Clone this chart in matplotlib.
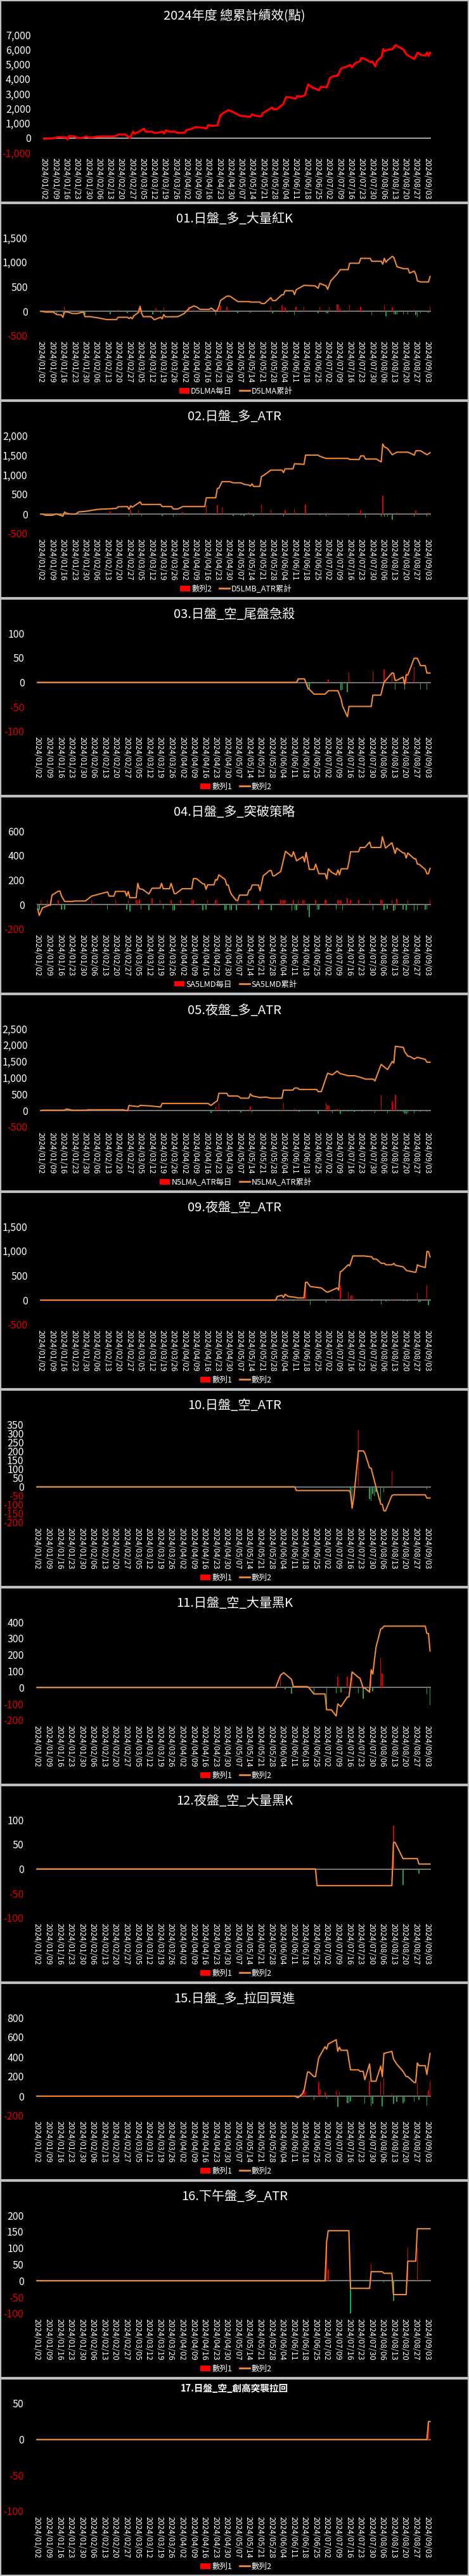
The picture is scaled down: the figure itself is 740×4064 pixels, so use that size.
import numpy as np
import pandas as pd
import matplotlib
matplotlib.use('Agg')
import matplotlib.pyplot as plt
from matplotlib.patches import Patch, Rectangle
from matplotlib.lines import Line2D
from matplotlib.ticker import FuncFormatter

plt.rcParams['font.family'] = ['Noto Sans CJK TC', 'DejaVu Sans']

# ---- data: (MM/DD, points), year 2024 ----
p00_line = [('01/02', -50), ('01/04', -40), ('01/09', 0), ('01/11', 70), ('01/16', 40), ('01/17', -100),
            ('01/18', 140), ('01/22', 100), ('01/23', 0), ('01/26', 0), ('01/29', 100), ('01/31', 40),
            ('02/02', 40), ('02/05', 100), ('02/07', 110), ('02/16', 110), ('02/19', 240), ('02/23', 240),
            ('02/26', 0), ('02/28', 430), ('02/29', 290), ('03/04', 500), ('03/06', 640), ('03/07', 430),
            ('03/11', 430), ('03/13', 330), ('03/18', 430), ('03/19', 300), ('03/20', 530), ('03/22', 430),
            ('03/26', 430), ('03/27', 360), ('04/01', 360), ('04/02', 530), ('04/05', 610), ('04/08', 740),
            ('04/12', 710), ('04/15', 640), ('04/16', 890), ('04/18', 820), ('04/22', 860), ('04/24', 1570),
            ('04/29', 1900), ('05/02', 1760), ('05/06', 1530), ('05/13', 1430), ('05/14', 1600), ('05/17', 1500),
            ('05/20', 1470), ('05/21', 1690), ('05/27', 2070), ('05/28', 1930), ('05/30', 1960), ('06/03', 2290),
            ('06/05', 2790), ('06/07', 2760), ('06/11', 2670), ('06/12', 2860), ('06/14', 2790), ('06/17', 2900),
            ('06/19', 3640), ('06/21', 3470), ('06/26', 3240), ('06/27', 3470), ('07/01', 3450), ('07/03', 4070),
            ('07/05', 4190), ('07/08', 4240), ('07/10', 4710), ('07/15', 4900), ('07/16', 4960), ('07/17', 4790),
            ('07/19', 5070), ('07/22', 5190), ('07/23', 5430), ('07/26', 5330), ('07/29', 5140), ('07/30', 5210),
            ('08/01', 4860), ('08/02', 5210), ('08/05', 5500), ('08/06', 6040), ('08/07', 5890), ('08/09', 5990),
            ('08/12', 6030), ('08/14', 6310), ('08/15', 6240), ('08/19', 6000), ('08/21', 5670), ('08/23', 5530),
            ('08/26', 5360), ('08/28', 5790), ('08/30', 5640), ('09/02', 5600), ('09/03', 5790), ('09/04', 5570),
            ('09/05', 5790)]

p01_line = [('01/02', 0), ('01/03', 0), ('01/05', -15), ('01/10', -15), ('01/12', -65), ('01/15', -73),
            ('01/16', -120), ('01/17', -13), ('01/19', -13), ('01/22', -43), ('01/25', -43), ('01/29', -13),
            ('01/30', -107), ('02/02', -107), ('02/07', -130), ('02/13', -167), ('02/19', -167), ('02/20', -120),
            ('02/26', -120), ('02/27', -145), ('02/28', -120), ('02/29', -150), ('03/01', -90), ('03/04', -20),
            ('03/05', 100), ('03/06', -40), ('03/07', -107), ('03/12', -107), ('03/14', -170), ('03/18', -120),
            ('03/19', -150), ('03/20', -65), ('03/21', -110), ('03/26', -110), ('03/29', -107), ('04/02', -43),
            ('04/05', 60), ('04/08', 110), ('04/10', 90), ('04/12', 40), ('04/18', 40), ('04/19', 70),
            ('04/22', 0), ('04/23', 30), ('04/24', 100), ('04/25', 220), ('04/29', 310), ('05/01', 310),
            ('05/06', 200), ('05/13', 200), ('05/14', 190), ('05/20', 190), ('05/21', 160), ('05/23', 160),
            ('05/27', 280), ('05/28', 220), ('05/30', 220), ('06/03', 340), ('06/04', 340), ('06/05', 420),
            ('06/10', 420), ('06/11', 340), ('06/12', 440), ('06/17', 530), ('06/24', 520), ('06/26', 470),
            ('06/27', 570), ('07/01', 520), ('07/02', 450), ('07/04', 620), ('07/08', 760), ('07/10', 850),
            ('07/15', 850), ('07/16', 980), ('07/22', 980), ('07/23', 1080), ('07/29', 1080), ('07/30', 1020),
            ('08/05', 1020), ('08/06', 960), ('08/07', 1080), ('08/08', 1000), ('08/09', 1040), ('08/12', 1120),
            ('08/13', 1100), ('08/15', 910), ('08/19', 870), ('08/22', 870), ('08/23', 780), ('08/26', 820),
            ('08/27', 750), ('08/28', 620), ('08/30', 600), ('09/04', 600), ('09/05', 710)]
p01_bars = [('01/17', 100), ('02/20', 47), ('03/04', 70), ('03/05', 120), ('03/15', 60), ('03/20', 85),
            ('04/05', 100), ('04/08', 50), ('04/24', 70), ('04/25', 120), ('04/29', 90), ('05/27', 110),
            ('06/03', 120), ('06/05', 80), ('06/12', 100), ('06/17', 90), ('06/27', 100), ('07/03', 100),
            ('07/08', 150), ('07/09', 130), ('07/10', 45), ('07/11', 20), ('07/16', 130), ('07/23', 100),
            ('08/07', 120), ('08/12', 80), ('08/26', 40), ('09/05', 110),
            ('01/12', -50), ('01/15', -10), ('01/16', -45), ('01/30', -60), ('02/15', -64), ('02/26', -30),
            ('03/06', -40), ('03/13', -56), ('03/18', -40), ('04/22', -73), ('05/06', -40), ('05/14', -20),
            ('05/28', -40), ('06/06', -20), ('06/11', -73), ('06/26', -40), ('07/01', -40), ('07/02', -30),
            ('07/30', -73), ('08/08', -100), ('08/13', -60), ('08/14', -60), ('08/15', -60), ('08/19', -60),
            ('08/22', -60), ('08/27', -70), ('08/28', -107), ('08/30', -40), ('09/04', -20)]

p02_line = [('01/02', 0), ('01/03', 0), ('01/05', -32), ('01/09', -32), ('01/12', 0), ('01/15', -40),
            ('01/16', -55), ('01/17', 50), ('01/19', 10), ('01/22', 0), ('01/24', 0), ('01/26', 55),
            ('01/29', 65), ('02/01', 80), ('02/07', 120), ('02/15', 135), ('02/19', 145), ('02/20', 185),
            ('02/26', 190), ('02/27', 120), ('02/28', 210), ('02/29', 175), ('03/04', 280), ('03/05', 310),
            ('03/06', 245), ('03/18', 245), ('03/19', 190), ('03/25', 190), ('03/26', 130), ('03/29', 130),
            ('04/01', 190), ('04/15', 190), ('04/16', 415), ('04/22', 415), ('04/23', 650), ('04/24', 660),
            ('04/26', 825), ('05/01', 825), ('05/03', 795), ('05/08', 795), ('05/10', 757), ('05/13', 740),
            ('05/14', 713), ('05/15', 768), ('05/16', 703), ('05/20', 703), ('05/21', 957), ('05/22', 973),
            ('05/27', 1119), ('06/03', 1119), ('06/04', 1054), ('06/05', 1151), ('06/10', 1151), ('06/11', 1281),
            ('06/17', 1265), ('06/18', 1500), ('06/26', 1500), ('06/27', 1470), ('07/01', 1416), ('07/15', 1416),
            ('07/16', 1390), ('07/22', 1390), ('07/23', 1480), ('07/25', 1480), ('07/26', 1400), ('08/02', 1400),
            ('08/05', 1325), ('08/06', 1784), ('08/07', 1710), ('08/09', 1670), ('08/12', 1510), ('08/15', 1575),
            ('08/22', 1575), ('08/26', 1500), ('08/27', 1610), ('08/30', 1610), ('09/03', 1510), ('09/05', 1560)]
p02_bars = [('01/17', 65), ('02/15', 65), ('02/20', 30), ('02/28', 100), ('03/04', 90), ('04/01', 50),
            ('04/16', 227), ('04/23', 227), ('04/26', 157), ('05/13', 50), ('05/21', 243), ('05/27', 119),
            ('06/05', 103), ('06/11', 135), ('06/18', 243), ('07/02', 40), ('07/23', 103), ('08/06', 460),
            ('08/15', 50), ('08/27', 103), ('09/04', 25),
            ('01/15', -30), ('02/01', -20), ('02/27', -70), ('02/29', -35), ('03/06', -50), ('03/19', -55),
            ('03/26', -60), ('05/03', -43), ('05/08', -30), ('05/10', -43), ('05/16', -43), ('06/04', -70),
            ('06/27', -25), ('07/01', -43), ('07/15', -55), ('07/26', -97), ('08/05', -70), ('08/07', -70),
            ('08/09', -70), ('08/12', -140), ('08/26', -70), ('09/03', -70)]

p03_line = [('01/02', 0), ('06/13', 0), ('06/14', 7), ('06/18', 7), ('06/20', -11), ('06/24', -24),
            ('07/01', -24), ('07/03', -17), ('07/09', -17), ('07/11', -34), ('07/12', -49), ('07/15', -70),
            ('07/16', -49), ('07/30', -49), ('07/31', -26), ('08/05', -26), ('08/07', 0), ('08/12', 19),
            ('08/13', 19), ('08/14', 4), ('08/15', 4), ('08/19', 11), ('08/20', -4), ('08/21', 15),
            ('08/22', 15), ('08/26', 49), ('08/28', 49), ('08/30', 34), ('09/02', 34), ('09/03', 19), ('09/05', 19)]
p03_bars = [('06/14', 7), ('06/20', -16), ('06/21', -15), ('07/03', 6), ('07/11', -16), ('07/12', -15),
            ('07/15', -20), ('07/16', 20), ('07/31', 23), ('08/07', 26), ('08/12', 19), ('08/14', -15),
            ('08/20', -15), ('08/21', 19), ('08/26', 32), ('08/30', -15), ('09/03', -15)]

p04_line = [('01/02', -35), ('01/03', -87), ('01/05', -26), ('01/09', -5), ('01/10', -5), ('01/11', 78),
            ('01/15', 110), ('01/16', 110), ('01/17', 70), ('01/19', 26), ('01/24', 26), ('01/25', 30),
            ('02/01', 30), ('02/05', 70), ('02/15', 104), ('02/16', 70), ('02/19', 70), ('02/20', 108),
            ('02/26', 108), ('02/27', 70), ('02/28', 108), ('02/29', 57), ('03/04', 57), ('03/05', 174),
            ('03/06', 130), ('03/08', 125), ('03/12', 87), ('03/14', 134), ('03/19', 134), ('03/20', 174),
            ('03/21', 130), ('03/25', 130), ('03/26', 174), ('03/28', 90), ('03/29', 90), ('04/02', 130),
            ('04/08', 130), ('04/09', 212), ('04/11', 212), ('04/15', 169), ('04/16', 169), ('04/17', 125),
            ('04/18', 162), ('04/22', 162), ('04/23', 205), ('04/24', 200), ('04/25', 243), ('04/29', 205),
            ('04/30', 160), ('05/01', 160), ('05/02', 113), ('05/03', 83), ('05/06', 35), ('05/07', 35),
            ('05/08', 78), ('05/13', 78), ('05/14', 118), ('05/15', 122), ('05/16', 160), ('05/20', 160),
            ('05/21', 113), ('05/23', 235), ('05/27', 278), ('05/28', 278), ('05/29', 235), ('05/30', 235),
            ('06/03', 270), ('06/06', 435), ('06/10', 391), ('06/11', 431), ('06/13', 357), ('06/17', 391),
            ('06/18', 348), ('06/19', 426), ('06/21', 287), ('06/24', 287), ('06/25', 330), ('06/27', 252),
            ('07/01', 252), ('07/02', 209), ('07/03', 292), ('07/05', 264), ('07/08', 243), ('07/09', 282),
            ('07/10', 243), ('07/11', 292), ('07/15', 292), ('07/16', 351), ('07/17', 431), ('07/22', 431),
            ('07/23', 466), ('07/26', 466), ('07/29', 510), ('07/30', 466), ('08/05', 466), ('08/06', 553),
            ('08/08', 461), ('08/12', 504), ('08/13', 461), ('08/14', 417), ('08/15', 461), ('08/19', 421),
            ('08/20', 421), ('08/21', 379), ('08/22', 421), ('08/26', 374), ('08/27', 374), ('08/28', 330),
            ('08/29', 330), ('09/02', 287), ('09/03', 252), ('09/04', 252), ('09/05', 296)]
p04_bars = [('01/04', 40), ('01/08', 40), ('01/10', 40), ('01/15', 40), ('02/05', 40), ('02/20', 40),
            ('02/28', 40), ('03/04', 35), ('03/05', 40), ('03/06', 45), ('03/14', 55), ('03/19', 40),
            ('03/26', 40), ('04/01', 35), ('04/08', 35), ('04/09', 35), ('04/18', 35), ('04/23', 40),
            ('04/24', 35), ('05/07', 35), ('05/13', 35), ('05/14', 35), ('05/21', 35), ('05/22', 35),
            ('05/23', 35), ('06/03', 35), ('06/04', 35), ('06/05', 40), ('06/06', 40), ('06/11', 40),
            ('06/14', 35), ('06/17', 35), ('06/18', 35), ('06/25', 40), ('07/01', 35), ('07/02', 40),
            ('07/09', 40), ('07/10', 35), ('07/11', 40), ('07/15', 55), ('07/17', 40), ('07/22', 35),
            ('07/29', 40), ('08/05', 35), ('08/06', 40), ('08/12', 35), ('08/15', 50), ('08/22', 40), ('09/05', 40),
            ('01/02', -45), ('01/03', -45), ('01/17', -38), ('01/19', -40), ('02/15', -40), ('02/27', -40),
            ('02/29', -55), ('03/07', -40), ('03/12', -43), ('03/21', -35), ('03/27', -48), ('03/28', -43),
            ('04/15', -43), ('04/17', -38), ('04/29', -43), ('04/30', -43), ('05/02', -43), ('05/03', -43),
            ('05/06', -45), ('05/20', -40), ('05/28', -47), ('06/10', -50), ('06/12', -43), ('06/13', -43),
            ('06/20', -43), ('06/21', -104), ('06/26', -40), ('06/27', -40), ('07/08', -40), ('07/12', -43),
            ('07/31', -43), ('08/07', -43), ('08/09', -35), ('08/13', -50), ('08/14', -45), ('08/19', -40),
            ('08/21', -45), ('08/26', -50), ('08/28', -43), ('09/02', -40), ('09/03', -40)]

p05_line = [('01/02', 0), ('01/03', 13), ('01/17', 13), ('01/18', 45), ('01/19', 45), ('01/22', 13),
            ('01/31', 13), ('02/01', 26), ('02/23', 26), ('02/26', 0), ('02/27', 160), ('02/29', 142),
            ('03/04', 123), ('03/05', 160), ('03/12', 142), ('03/18', 110), ('03/19', 220), ('04/17', 220),
            ('04/19', 160), ('04/22', 271), ('04/23', 300), ('04/24', 530), ('04/29', 530), ('04/30', 446),
            ('05/06', 446), ('05/08', 381), ('05/13', 381), ('05/14', 510), ('05/15', 452), ('05/20', 400),
            ('05/24', 413), ('05/27', 381), ('06/03', 381), ('06/04', 627), ('06/10', 627), ('06/11', 691),
            ('06/13', 691), ('06/14', 646), ('06/25', 646), ('06/26', 581), ('06/28', 581), ('07/02', 1143),
            ('07/05', 1092), ('07/08', 1208), ('07/10', 1130), ('07/15', 1066), ('07/19', 1066), ('07/23', 1014),
            ('07/26', 962), ('07/31', 962), ('08/01', 904), ('08/05', 1415), ('08/06', 1370), ('08/09', 1253),
            ('08/12', 1499), ('08/13', 1453), ('08/14', 1964), ('08/19', 1932), ('08/20', 1789), ('08/22', 1660),
            ('08/23', 1660), ('08/26', 1576), ('08/28', 1628), ('09/02', 1563), ('09/03', 1479), ('09/05', 1479)]
p05_bars = [('02/27', 60), ('04/19', -65), ('04/22', 120), ('04/24', 240), ('04/30', -50), ('05/08', -50),
            ('05/14', 110), ('05/15', -50), ('06/04', 240), ('06/11', 60), ('06/14', -40), ('06/26', -84),
            ('07/01', 240), ('07/02', 155), ('07/03', 155), ('07/05', -65), ('07/08', 45), ('07/09', 40),
            ('07/10', -97), ('07/15', -40), ('07/19', -40), ('07/24', -40), ('08/01', -65), ('08/05', 485),
            ('08/09', -65), ('08/12', 270), ('08/14', 485), ('08/19', -50), ('08/20', -97), ('08/21', -116),
            ('08/22', -70), ('08/26', -70), ('08/30', -40), ('09/03', -40)]

p09_line = [('01/02', 0), ('05/30', 0), ('05/31', 77), ('06/03', 99), ('06/04', 56), ('06/05', 120),
            ('06/07', 77), ('06/12', 56), ('06/13', 47), ('06/17', 47), ('06/18', 365), ('06/19', 365),
            ('06/21', 279), ('06/25', 262), ('06/28', 249), ('07/01', 176), ('07/02', 163), ('07/05', 206),
            ('07/08', 249), ('07/09', 206), ('07/10', 579), ('07/11', 592), ('07/15', 721), ('07/16', 700),
            ('07/18', 901), ('07/25', 901), ('07/30', 884), ('07/31', 837), ('08/02', 837), ('08/05', 751),
            ('08/07', 751), ('08/08', 721), ('08/12', 721), ('08/13', 751), ('08/14', 712), ('08/19', 678),
            ('08/21', 605), ('08/26', 571), ('08/27', 571), ('08/28', 721), ('08/29', 700), ('09/02', 665),
            ('09/03', 991), ('09/04', 991), ('09/05', 880)]
p09_bars = [('05/31', 86), ('06/04', -17), ('06/05', 43), ('06/10', -17), ('06/18', 365), ('06/21', -94),
            ('07/01', -52), ('07/05', 56), ('07/09', -17), ('07/10', 300), ('07/15', 176), ('07/17', 100),
            ('07/18', 100), ('07/30', -17), ('08/05', -82), ('08/08', -17), ('08/13', 26), ('08/19', -17),
            ('08/21', -17), ('08/22', -17), ('08/28', 142), ('08/29', -30), ('08/30', -30), ('09/03', 313),
            ('09/04', -94)]

p10_line = [('01/02', 0), ('06/12', 0), ('06/13', -21), ('07/16', -21), ('07/17', -33), ('07/18', -120),
            ('07/19', -67), ('07/22', 201), ('07/25', 201), ('07/26', 189), ('07/29', 106), ('07/30', 104),
            ('08/02', 0), ('08/05', -96), ('08/06', -99), ('08/07', -135), ('08/08', -135), ('08/12', -49),
            ('08/13', -45), ('09/02', -45), ('09/03', -63), ('09/05', -63)]
p10_bars = [('07/17', -30), ('07/18', -90), ('07/22', 317), ('07/29', -67), ('07/30', -79), ('07/31', -40),
            ('08/01', -50), ('08/02', -30), ('08/05', -100), ('08/07', -30), ('08/12', 86), ('09/03', -17)]

p11_line = [('01/02', 0), ('05/31', 0), ('06/03', 75), ('06/05', 91), ('06/10', 49), ('06/11', 6),
            ('06/20', 6), ('06/21', -3), ('06/24', -39), ('07/01', -39), ('07/02', -136), ('07/05', -136),
            ('07/08', -174), ('07/09', -100), ('07/11', -117), ('07/15', -58), ('07/16', -58), ('07/18', 95),
            ('07/22', 62), ('07/23', 56), ('07/25', -3), ('07/26', -3), ('07/29', -28), ('07/30', 108),
            ('07/31', 82), ('08/02', 244), ('08/05', 358), ('08/06', 362), ('08/07', 375), ('09/02', 375),
            ('09/03', 331), ('09/04', 330), ('09/05', 224)]
p11_bars = [('06/03', 75), ('06/06', -10), ('06/10', -39), ('06/24', -39), ('07/02', -100), ('07/08', -35),
            ('07/09', 69), ('07/11', -28), ('07/15', 69), ('07/18', 95), ('07/22', -35), ('07/25', -67),
            ('07/29', -28), ('07/30', 114), ('07/31', -22), ('08/05', 185), ('08/06', 88), ('08/07', 13),
            ('09/03', -41), ('09/05', -106)]

p12_line = [('01/02', 0), ('06/25', 0), ('06/26', -34), ('08/12', -34), ('08/13', 54), ('08/14', 54),
            ('08/19', 21), ('08/28', 21), ('08/29', 10), ('09/05', 10)]
p12_bars = [('08/13', 88), ('08/19', -33), ('08/29', -10)]

p15_line = [('01/02', 0), ('06/12', 0), ('06/14', -15), ('06/17', 28), ('06/18', 71), ('06/20', 246),
            ('06/21', 246), ('06/24', 199), ('06/25', 199), ('06/27', 388), ('07/01', 504), ('07/02', 478),
            ('07/03', 531), ('07/08', 574), ('07/09', 456), ('07/10', 499), ('07/11', 467), ('07/15', 467),
            ('07/17', 268), ('07/22', 268), ('07/23', 253), ('07/25', 253), ('07/26', 167), ('07/29', 328),
            ('07/30', 152), ('08/02', 152), ('08/05', 306), ('08/06', 199), ('08/07', 435), ('08/12', 456),
            ('08/13', 381), ('08/15', 328), ('08/19', 253), ('08/21', 199), ('08/22', 199), ('08/26', 139),
            ('08/27', 139), ('08/28', 339), ('08/29', 311), ('09/02', 311), ('09/03', 221), ('09/05', 435)]
p15_bars = [('06/17', 60), ('06/18', 80), ('06/19', 50), ('06/24', -36), ('06/27', 145), ('06/28', 70),
            ('07/01', 40), ('07/02', -26), ('07/08', 60), ('07/09', -111), ('07/10', 45), ('07/15', -69),
            ('07/16', -69), ('07/17', -54), ('07/26', -79), ('07/29', 152), ('07/30', -100), ('07/31', -75),
            ('08/05', 150), ('08/06', -100), ('08/07', 178), ('08/12', 24), ('08/13', -75), ('08/15', -58),
            ('08/19', -69), ('08/20', -58), ('08/26', -58), ('08/28', 135), ('08/29', -36), ('09/03', -94),
            ('09/04', 60), ('09/05', 152)]

p16_line = [('01/02', 0), ('07/01', 0), ('07/02', 119), ('07/03', 153), ('07/16', 153), ('07/17', -23),
            ('07/29', -23), ('07/30', 28), ('08/06', 28), ('08/07', 23), ('08/12', 23), ('08/13', -42),
            ('08/21', -42), ('08/22', 60), ('08/27', 60), ('08/28', 159), ('09/05', 159)]
p16_bars = [('07/02', 119), ('07/03', 35), ('07/17', -100), ('07/30', 52), ('08/07', -5), ('08/13', -61),
            ('08/22', 101), ('08/28', 100)]

p17_line = [('01/02', 0), ('09/03', 0), ('09/04', 25), ('09/05', 25)]
p17_bars = [('09/04', 25)]

titles = ['2024年度 總累計績效(點)', '01.日盤_多_大量紅K', '02.日盤_多_ATR', '03.日盤_空_尾盤急殺',
          '04.日盤_多_突破策略', '05.夜盤_多_ATR', '09.夜盤_空_ATR', '10.日盤_空_ATR',
          '11.日盤_空_大量黑K', '12.夜盤_空_大量黑K', '15.日盤_多_拉回買進', '16.下午盤_多_ATR',
          '17.日盤_空_創高突襲拉回']
legends = [None, ('D5LMA每日', 'D5LMA累計'), ('數列2', 'D5LMB_ATR累計'), ('數列1', '數列2'),
           ('SA5LMD每日', 'SA5LMD累計'), ('N5LMA_ATR每日', 'N5LMA_ATR累計')] + [('數列1', '數列2')] * 7
lines = [p00_line, p01_line, p02_line, p03_line, p04_line, p05_line, p09_line, p10_line,
         p11_line, p12_line, p15_line, p16_line, p17_line]
bars = [None, p01_bars, p02_bars, p03_bars, p04_bars, p05_bars, p09_bars, p10_bars,
        p11_bars, p12_bars, p15_bars, p16_bars, p17_bars]
yranges = [(-1000, 7000, 1000), (-500, 1500, 500), (-500, 2000, 500), (-100, 100, 50), (-200, 600, 200),
           (-500, 2500, 500), (-500, 1500, 500), (-200, 350, 50), (-200, 400, 100), (-100, 100, 50),
           (-200, 800, 200), (-100, 200, 50), (-100, 50, 50)]

# ---- layout (pixels) ----
W, H = 740, 4064
lefts = [68, 63, 63, 58, 58, 63, 63, 57, 57, 57, 57, 57, 57]
RIGHT = 680
ORANGE = '#F08A3C'
BAR_RED, BAR_GREEN = '#E00000', '#22A050'


def unpack(pairs):
    d = pd.to_datetime(['2024/' + m for m, _ in pairs], format='%Y/%m/%d')
    v = np.array([val for _, val in pairs], dtype=float)
    return d, v


fig = plt.figure(figsize=(W / 100, H / 100), dpi=100, facecolor='black')
ticks = pd.date_range('2024-01-02', '2024-09-03', freq='7D')
x0 = pd.Timestamp('2024-01-02') - pd.Timedelta(hours=14)
x1 = pd.Timestamp('2024-09-05') + pd.Timedelta(hours=14)

for i in range(13):
    if i == 0:
        T, PH, top, bot, ty = 0, 320, 55, 241, 25
    else:
        T, PH = 320 + (i - 1) * 312, 312
        top, bot, ty = (T + 40, T + 210, T + 16) if i == 12 else (T + 55, T + 210, T + 26)

    # panel frame
    fig.patches.append(Rectangle((1 / W, 1 - (T + PH - 1) / H), 738 / W, (PH - 2) / H,
                                 transform=fig.transFigure, fill=False, edgecolor='#C0C0C0', lw=1.6))

    ax = fig.add_axes([lefts[i] / W, 1 - bot / H, (RIGHT - lefts[i]) / W, (bot - top) / H])
    ax.set_facecolor('black')
    for s in ax.spines.values():
        s.set_visible(False)

    lo, hi, step = yranges[i]
    ax.axhline(0, color='#BFBFBF' if i == 0 else '#8C8C8C', lw=1.2, zorder=1)

    if bars[i] is not None:
        bd, bv = unpack(bars[i])
        ax.bar(bd, bv, width=0.6, color=[BAR_RED if v >= 0 else BAR_GREEN for v in bv], zorder=2)

    ld, lv = unpack(lines[i])
    if i == 0:
        ax.plot(ld, lv, color='#FF0000', lw=2.3, zorder=3, solid_joinstyle='round')
    else:
        ax.plot(ld, lv, color=ORANGE, lw=1.5, zorder=3, solid_joinstyle='round')

    ax.set_xlim(x0, x1)
    ax.set_ylim(lo, hi)
    yt = np.arange(lo, hi + step, step)
    ax.set_yticks(yt)
    ax.yaxis.set_major_formatter(FuncFormatter(lambda v, p: '{:,.0f}'.format(v)))
    ax.tick_params(axis='y', length=0, pad=14, labelsize=11.5)
    for lab, v in zip(ax.get_yticklabels(), yt):
        lab.set_color('#E00000' if v < 0 else 'white')

    ax.set_xticks(ticks)
    ax.set_xticklabels([t.strftime('%Y/%m/%d') for t in ticks], rotation=-90, fontsize=9, color='white')
    ax.tick_params(axis='x', length=0, pad=6)

    if i == 12:
        fig.text(370 / W, 1 - ty / H, titles[i], ha='center', va='center', color='white',
                 fontsize=10.5, fontweight='bold')
    else:
        fig.text(370 / W, 1 - ty / H, titles[i], ha='center', va='center', color='white', fontsize=14.5)

    if legends[i] is not None:
        handles = [Patch(facecolor='#FF0000', edgecolor='none'), Line2D([0], [0], color=ORANGE, lw=2)]
        ax.legend(handles, legends[i], loc='center', bbox_to_anchor=(372 / W, 1 - (T + 297) / H),
                  bbox_transform=fig.transFigure, ncol=2, frameon=False, fontsize=9, labelcolor='white',
                  handlelength=1.3, handletextpad=0.2, columnspacing=0.9)

fig.savefig('out.png', dpi=100, facecolor='black')
